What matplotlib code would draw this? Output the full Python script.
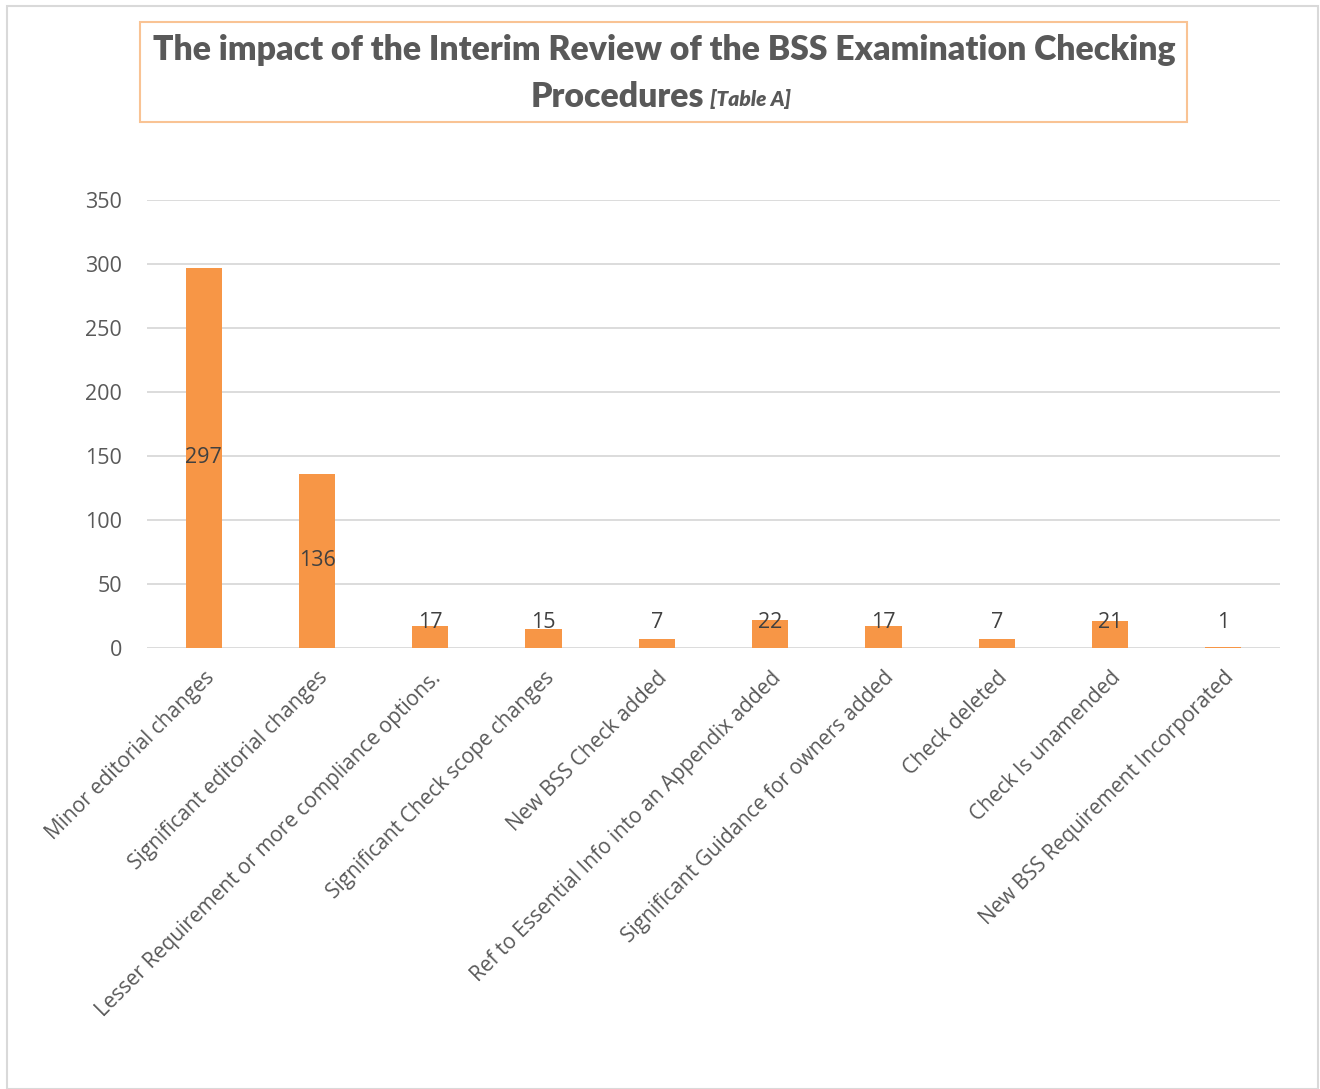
import matplotlib
matplotlib.use("Agg")
import matplotlib.pyplot as plt
from matplotlib.patches import Rectangle
import numpy as np

categories = [
    "Minor editorial changes",
    "Significant editorial changes",
    "Lesser Requirement or more compliance options.",
    "Significant Check scope changes",
    "New BSS Check added",
    "Ref to Essential Info into an Appendix added",
    "Significant Guidance for owners added",
    "Check deleted",
    "Check Is unamended",
    "New BSS Requirement Incorporated",
]
values = [297, 136, 17, 15, 7, 22, 17, 7, 21, 1]
yticks = [0, 50, 100, 150, 200, 250, 300, 350]

bar_color = "#F79646"
grid_color = "#D9D9D9"
text_gray = "#595959"

fig = plt.figure(figsize=(13.2, 10.89), dpi=100)
ax = fig.add_axes([147 / 1320, 1 - 648 / 1089, (1280 - 147) / 1320, (648 - 200) / 1089])

x = np.arange(len(categories))
ax.bar(x, values, width=0.32, color=bar_color, zorder=3)

# data labels, centred in bar, pushed up for short bars
for xi, v in zip(x, values):
    ax.text(xi, max(v / 2, 20), str(v), ha="center", va="center",
            fontsize=15.5, color="#404040", family="Open Sans", zorder=4)

ax.set_xlim(-0.5, len(categories) - 0.5)
ax.set_ylim(0, 350)
ax.set_yticks(yticks)
ax.set_yticklabels([str(t) for t in yticks], fontsize=15.5, color=text_gray, family="Open Sans")
ax.yaxis.grid(True, color=grid_color, linewidth=1.3, zorder=0)
ax.tick_params(axis="both", length=0)
ax.tick_params(axis="y", pad=18)
for s in ax.spines.values():
    s.set_visible(False)

ax.set_xticks(x)
ax.set_xticklabels(categories, rotation=45, ha="right", va="top", rotation_mode="anchor",
                   fontsize=15, color=text_gray, family="Open Sans")
ax.tick_params(axis="x", pad=14)

# title box
fig.patches.append(Rectangle((140 / 1320, 1 - 122 / 1089), (1187 - 140) / 1320, 100 / 1089,
                             transform=fig.transFigure, fill=False,
                             edgecolor="#F9C394", linewidth=1.5))
fig.text(664 / 1320, 1 - 50 / 1089, "The impact of the Interim Review of the BSS Examination Checking",
         ha="center", va="center", fontsize=24.3, fontweight="heavy", color=text_gray, family="Lato")
fig.text(704 / 1320, 1 - 97 / 1089, "Procedures", ha="right", va="center",
         fontsize=24.3, fontweight="heavy", color=text_gray, family="Lato")
fig.text(710 / 1320, 1 - 99 / 1089, "[Table A]", ha="left", va="center",
         fontsize=15, fontweight="heavy", fontstyle="italic", color=text_gray, family="Lato")

# outer chart border
fig.patches.append(Rectangle((7 / 1320, 0), (1318 - 7) / 1320, 1 - 6 / 1089,
                             transform=fig.transFigure, fill=False,
                             edgecolor=grid_color, linewidth=1.5))

fig.savefig("out.png", dpi=100)
